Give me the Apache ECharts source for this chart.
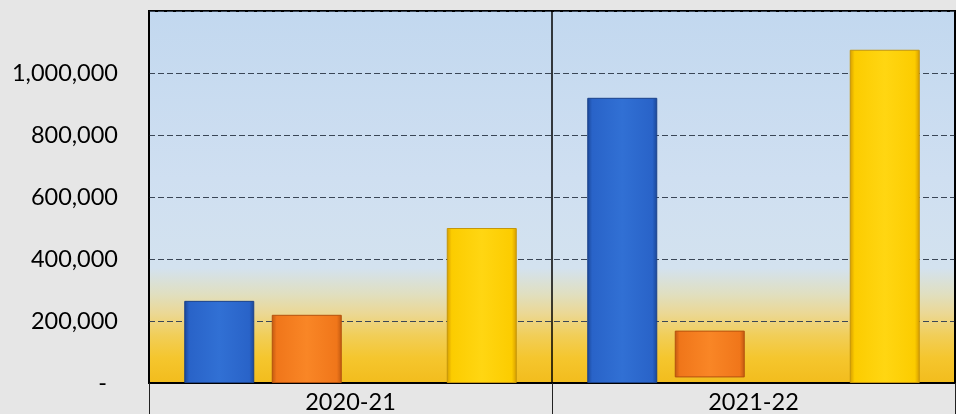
<!DOCTYPE html>
<html>
<head>
<meta charset="utf-8">
<script src="https://cdn.jsdelivr.net/npm/echarts@6/dist/echarts.min.js"></script>
<style>
html,body{margin:0;padding:0;background:#e6e6e6;}
#c{width:956px;height:414px;}
</style>
</head>
<body>
<div id="c"></div>
<script>
// ---- data ----
var categories = ['2020-21', '2021-22'];
var blueValues = [265000, 920000];
var orangeLow = [0, 18000];
var orangeHigh = [220000, 169000];
var emptyValues = ['-', '-'];
var yellowValues = [500000, 1075000];
var yTicks = [0, 200000, 400000, 600000, 800000, 1000000, 1200000];

function fmt(v) {
  if (v === 0) return '{z|-}';
  if (v >= 1200000) return '';
  return v.toString().replace(/\B(?=(\d{3})+(?!\d))/g, ',');
}
function barGrad(edge, main, light) {
  return {
    type: 'linear', x: 0, y: 0, x2: 1, y2: 0,
    colorStops: [
      {offset: 0, color: edge},
      {offset: 0.07, color: main},
      {offset: 0.5, color: light},
      {offset: 0.93, color: main},
      {offset: 1, color: edge}
    ]
  };
}
var orangeLen = orangeHigh.map(function (h, i) { return h - orangeLow[i]; });

var chart = echarts.init(document.getElementById('c'), null, {renderer: 'canvas'});
var FONT = 'Lato';
chart.setOption({
  backgroundColor: '#e6e6e6',
  animation: false,
  grid: {
    left: 149, right: 1, top: 11, bottom: 31,
    show: true,
    borderColor: '#000', borderWidth: 2,
    backgroundColor: {
      type: 'linear', x: 0, y: 0, x2: 0, y2: 1,
      colorStops: [
        {offset: 0, color: '#c2d8ef'},
        {offset: 0.45, color: '#cfdff1'},
        {offset: 0.69, color: '#d3e2ef'},
        {offset: 0.76, color: '#e0dfc0'},
        {offset: 0.81, color: '#ebd896'},
        {offset: 0.87, color: '#f1ce58'},
        {offset: 0.93, color: '#f5c62e'},
        {offset: 1, color: '#f2bc1c'}
      ]
    }
  },
  xAxis: {
    type: 'category',
    data: categories,
    axisLine: {show: true, lineStyle: {color: '#000', width: 2}},
    axisTick: {show: true, length: 31, lineStyle: {color: '#222', width: 1}},
    axisLabel: {fontFamily: FONT, fontSize: 23.5, color: '#000', margin: 7},
    splitLine: {show: true, lineStyle: {color: '#000', width: 1.5}}
  },
  yAxis: {
    type: 'value',
    min: yTicks[0], max: yTicks[yTicks.length - 1], interval: yTicks[1] - yTicks[0],
    axisLine: {show: false},
    axisTick: {show: false},
    axisLabel: {
      fontFamily: FONT, fontSize: 23.5, color: '#000', margin: 31,
      formatter: fmt,
      rich: {z: {fontFamily: FONT, fontSize: 23.5, color: '#000', padding: [0, 11, 0, 0]}}
    },
    splitLine: {show: true, lineStyle: {color: '#3a4656', width: 1, type: [6, 3]}}
  },
  series: [
    {
      name: 'A', type: 'bar', data: blueValues, barWidth: 70, barGap: '25%',
      itemStyle: {color: barGrad('#1a4696', '#2963c8', '#3170d4'), borderColor: '#1b428a', borderWidth: 1}
    },
    {
      name: 'base', type: 'bar', stack: 'o', data: orangeLow, barWidth: 70, barGap: '25%',
      itemStyle: {color: 'rgba(0,0,0,0)'}, silent: true
    },
    {
      name: 'B', type: 'bar', stack: 'o', data: orangeLen, barWidth: 70, barGap: '25%',
      itemStyle: {color: barGrad('#c05810', '#f0761a', '#f98626'), borderColor: '#b4520e', borderWidth: 1}
    },
    {
      name: 'C', type: 'bar', data: emptyValues, barWidth: 70, barGap: '25%',
      itemStyle: {color: '#999'}
    },
    {
      name: 'D', type: 'bar', data: yellowValues, barWidth: 70, barGap: '25%',
      itemStyle: {color: barGrad('#d59c00', '#fccc00', '#ffd612'), borderColor: '#c4960a', borderWidth: 1}
    }
  ]
});
</script>
</body>
</html>
